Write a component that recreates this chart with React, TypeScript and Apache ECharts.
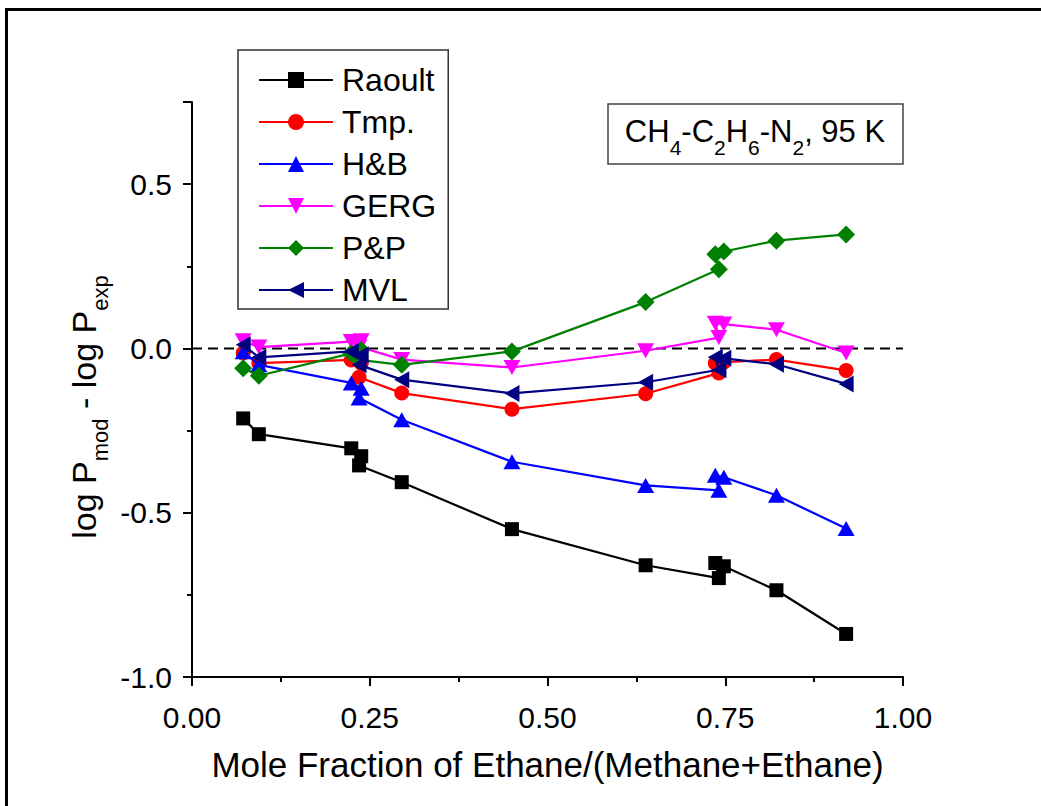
import { useEffect, useRef } from 'react';
import * as echarts from 'echarts';

const FONT = '"Liberation Sans", Arial, Helvetica, sans-serif';

// Mole fraction of ethane on a methane+ethane basis, in measurement order
const xFraction = [0.072, 0.094, 0.224, 0.238, 0.235, 0.295, 0.45, 0.638, 0.741, 0.736, 0.748, 0.822, 0.92];

// log P_mod - log P_exp for each model
const raoult = [-0.213, -0.261, -0.304, -0.328, -0.356, -0.407, -0.55, -0.66, -0.699, -0.653, -0.663, -0.736, -0.869];
const tmp = [-0.014, -0.045, -0.035, -0.045, -0.088, -0.136, -0.185, -0.138, -0.075, -0.045, -0.042, -0.034, -0.067];
const hb = [-0.01, -0.05, -0.105, -0.121, -0.151, -0.217, -0.345, -0.417, -0.432, -0.386, -0.392, -0.447, -0.548];
const gerg = [0.023, 0.004, 0.021, 0.023, 0.005, -0.034, -0.058, -0.007, 0.033, 0.077, 0.074, 0.057, -0.014];
const pp = [-0.06, -0.083, -0.015, -0.005, -0.035, -0.05, -0.009, 0.141, 0.241, 0.287, 0.295, 0.328, 0.347];
const mvl = [0.011, -0.027, -0.009, -0.019, -0.05, -0.095, -0.137, -0.103, -0.065, -0.027, -0.03, -0.048, -0.108];

const seriesNames = ['Raoult', 'Tmp.', 'H&B', 'GERG', 'P&P', 'MVL'];

const seriesDefs = [
  { name: 'Raoult', values: raoult, color: '#000000', symbol: 'rect', size: 14, rotate: 0 },
  { name: 'Tmp.', values: tmp, color: '#ff0000', symbol: 'circle', size: 15, rotate: 0 },
  { name: 'H&B', values: hb, color: '#0000ff', symbol: 'triangle', size: [17, 15], rotate: 0 },
  { name: 'GERG', values: gerg, color: '#ff00ff', symbol: 'triangle', size: [17, 15], rotate: 180 },
  { name: 'P&P', values: pp, color: '#008000', symbol: 'diamond', size: 18, rotate: 0 },
  { name: 'MVL', values: mvl, color: '#000080', symbol: 'triangle', size: [17, 15], rotate: 90 },
];

const tickStyle = { color: '#000', width: 2 };

export default function App() {
  const ref = useRef<HTMLDivElement>(null);

  useEffect(() => {
    document.body.style.margin = '0';
    const chart = echarts.init(ref.current!, null, { renderer: 'svg' });

    const lineSeries = seriesDefs.map((d, i) => ({
      type: 'line',
      name: d.name,
      data: xFraction.map((x, k) => [x, d.values[k]]),
      symbol: d.symbol,
      symbolSize: d.size,
      symbolRotate: d.rotate,
      showSymbol: true,
      showAllSymbol: true,
      lineStyle: { color: d.color, width: 2.2 },
      itemStyle: { color: d.color },
      emphasis: { disabled: true },
      z: 3 + i,
    }));

    chart.setOption({
      animation: false,
      backgroundColor: '#ffffff',
      grid: { left: 192, right: 138, top: 102, bottom: 129, containLabel: false, outerBoundsMode: 'none' },
      xAxis: {
        type: 'value',
        min: 0,
        max: 1,
        interval: 0.25,
        name: 'Mole Fraction of Ethane/(Methane+Ethane)',
        nameLocation: 'middle',
        nameGap: 70,
        nameTextStyle: { fontFamily: FONT, fontSize: 35, color: '#000' },
        axisLine: { show: true, onZero: false, lineStyle: tickStyle },
        axisTick: { show: true, inside: false, length: 9, lineStyle: tickStyle },
        minorTick: { show: true, splitNumber: 2, length: 5, lineStyle: tickStyle },
        axisLabel: {
          fontFamily: FONT,
          fontSize: 30,
          color: '#000',
          margin: 25,
          formatter: (v: number) => v.toFixed(2),
        },
        splitLine: { show: false },
        minorSplitLine: { show: false },
      },
      yAxis: {
        type: 'value',
        min: -1,
        max: 0.75,
        interval: 0.5,
        axisLine: { show: true, onZero: false, lineStyle: tickStyle },
        axisTick: { show: true, inside: false, length: 9, lineStyle: tickStyle },
        minorTick: { show: true, splitNumber: 2, length: 5, lineStyle: tickStyle },
        axisLabel: {
          fontFamily: FONT,
          fontSize: 30,
          color: '#000',
          margin: 20,
          formatter: (v: number) => (v > 0.6 ? '' : v.toFixed(1)),
        },
        splitLine: { show: false },
        minorSplitLine: { show: false },
      },
      legend: {
        data: seriesNames,
        orient: 'vertical',
        left: 238,
        top: 50,
        padding: [14, 12, 3, 20],
        itemWidth: 74,
        itemHeight: 20,
        itemGap: 10,
        backgroundColor: '#ffffff',
        borderColor: '#333333',
        borderWidth: 1.5,
        borderRadius: 0,
        selectedMode: false,
        textStyle: { fontFamily: FONT, fontSize: 32, color: '#000', lineHeight: 30, padding: [0, 0, 0, 4] },
      },
      graphic: [
        {
          type: 'rect',
          silent: true,
          z: 100,
          shape: { x: 6.5, y: 9.5, width: 1100, height: 900 },
          style: { fill: 'none', stroke: '#000', lineWidth: 3 },
        },
        {
          type: 'rect',
          silent: true,
          z: 50,
          shape: { x: 608, y: 104, width: 295, height: 60 },
          style: { fill: '#ffffff', stroke: '#444444', lineWidth: 1.5 },
        },
        {
          type: 'text',
          silent: true,
          z: 51,
          x: 755,
          y: 131,
          style: {
            text: '{m|CH}{s|4}{m|-C}{s|2}{m|H}{s|6}{m|-N}{s|2}{m|, 95 K}',
            align: 'center',
            verticalAlign: 'middle',
            fill: '#000',
            rich: {
              m: { fontFamily: FONT, fontSize: 31, lineHeight: 54, fill: '#000' },
              s: { fontFamily: FONT, fontSize: 21, lineHeight: 21, verticalAlign: 'bottom', fill: '#000' },
            },
          },
        },
        {
          type: 'text',
          silent: true,
          z: 51,
          x: 84,
          y: 407,
          rotation: Math.PI / 2,
          style: {
            text: '{m|log P}{s|mod}{m| - log P}{s|exp}',
            align: 'center',
            verticalAlign: 'middle',
            fill: '#000',
            rich: {
              m: { fontFamily: FONT, fontSize: 34, lineHeight: 54, fill: '#000' },
              s: { fontFamily: FONT, fontSize: 22, lineHeight: 22, verticalAlign: 'bottom', fill: '#000' },
            },
          },
        },
      ],
      series: [
        {
          type: 'line',
          name: 'zero',
          data: [
            [0, 0],
            [1, 0],
          ],
          symbol: 'none',
          silent: true,
          lineStyle: { color: '#000', width: 2, type: [10, 6] },
          z: 2,
        },
        ...lineSeries,
      ],
    });

    return () => chart.dispose();
  }, []);

  return <div ref={ref} style={{ width: 1041, height: 806 }} />;
}
